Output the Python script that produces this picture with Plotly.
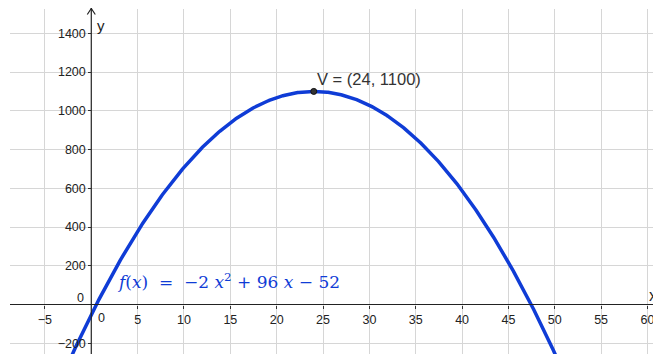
import numpy as np
import plotly.graph_objects as go

# Data
coefficients = [-2, 96, -52]          # f(x) = -2 x^2 + 96 x - 52
x_domain = [-4, 52]
vertex_x = [24]
vertex_y = [1100]
vertex_label = ["V = (24, 1100)"]
x_tick_vals = [-5, 5, 10, 15, 20, 25, 30, 35, 40, 45, 50, 55, 60]
y_tick_vals = [-200, 200, 400, 600, 800, 1000, 1200, 1400]
x_range = [-8.77, 61.46]
y_range = [-255.5, 1525.5]

xs = np.linspace(x_domain[0], x_domain[1], 600)
ys = np.polyval(coefficients, xs)

BLUE = "#0f3cd6"
GRID = "#d6d6d6"
TXT = "#222222"

fig = go.Figure()
fig.add_trace(go.Scatter(x=xs, y=ys, mode="lines",
                         line=dict(color=BLUE, width=3.5),
                         hoverinfo="skip", showlegend=False))
fig.add_trace(go.Scatter(x=vertex_x, y=vertex_y, mode="markers",
                         marker=dict(color="#333333", size=6,
                                     line=dict(color="#111111", width=1)),
                         showlegend=False, cliponaxis=False))

xpos = (0 - x_range[0]) / (x_range[1] - x_range[0])
ypos = (0 - y_range[0]) / (y_range[1] - y_range[0])

PLOT_H = 345
top_paper = 1 + 1.0 / PLOT_H   # top edge of the figure in paper units

# page body has an 8px margin: figure sized to end exactly at the window edge
fig.update_layout(
    width=653, height=346,
    margin=dict(l=2, r=0, t=1, b=0, autoexpand=False),
    paper_bgcolor="white", plot_bgcolor="white",
    font=dict(family="Liberation Sans, Arial, sans-serif", size=12.5, color=TXT),
    xaxis=dict(range=x_range, tickvals=x_tick_vals, showgrid=True,
               gridcolor=GRID, gridwidth=1, zeroline=False, showline=False,
               anchor="free", position=ypos, ticks="outside", ticklen=3,
               tickcolor="#333333", tickfont=dict(size=12.5, color=TXT),
               automargin=False, fixedrange=True),
    yaxis=dict(range=y_range, tickvals=y_tick_vals, showgrid=True,
               gridcolor=GRID, gridwidth=1, zeroline=False, showline=False,
               anchor="free", position=xpos, ticks="outside", ticklen=3,
               tickcolor="#333333", tickfont=dict(size=12.5, color=TXT),
               automargin=False, fixedrange=True),
)

# axis lines with arrows
fig.add_shape(type="line", xref="x", yref="paper", x0=0, x1=0, y0=0, y1=top_paper,
              line=dict(color="#222222", width=1.2))
fig.add_shape(type="line", xref="paper", yref="y", x0=0, x1=1.0, y0=0, y1=0,
              line=dict(color="#222222", width=1.2))
fig.add_shape(type="path", xref="x", yref="paper", xsizemode="pixel", ysizemode="pixel",
              xanchor=0, yanchor=top_paper - 0.5 / PLOT_H,
              path="M -4,-6 L 0,0 L 4,-6", line=dict(color="#222222", width=1.2))

# axis titles
fig.add_annotation(x=0, y=1, xref="x", yref="paper", text="y", showarrow=False,
                   xanchor="left", yanchor="middle", xshift=4, yshift=-16,
                   font=dict(size=15, color=TXT))
fig.add_annotation(x=60.6, y=0, xref="x", yref="y", text="x", showarrow=False,
                   xanchor="center", yanchor="middle", yshift=9,
                   font=dict(size=16, color=TXT))
# zero labels
fig.add_annotation(x=0, y=0, xref="x", yref="y", text="0", showarrow=False,
                   xanchor="right", yanchor="middle", xshift=-5, yshift=7,
                   font=dict(size=12.5, color=TXT))
fig.add_annotation(x=0, y=0, xref="x", yref="y", text="0", showarrow=False,
                   xanchor="left", yanchor="middle", xshift=5, yshift=-13,
                   font=dict(size=12.5, color=TXT))

# vertex label
fig.add_annotation(x=vertex_x[0], y=vertex_y[0], text=vertex_label[0],
                   showarrow=False, xanchor="left", yanchor="middle",
                   xshift=1, yshift=12, font=dict(size=16.5, color="#333333"))

# function label
fig.add_annotation(x=2.6, y=120, xref="x", yref="y",
                   text="<i>f</i>(<i>x</i>)  =  −2 <i>x</i><sup>2</sup> + 96 <i>x</i> − 52",
                   showarrow=False, xanchor="left", yanchor="middle",
                   font=dict(family="DejaVu Serif, Liberation Serif, serif", size=17, color=BLUE))

fig.write_html("out.html")
